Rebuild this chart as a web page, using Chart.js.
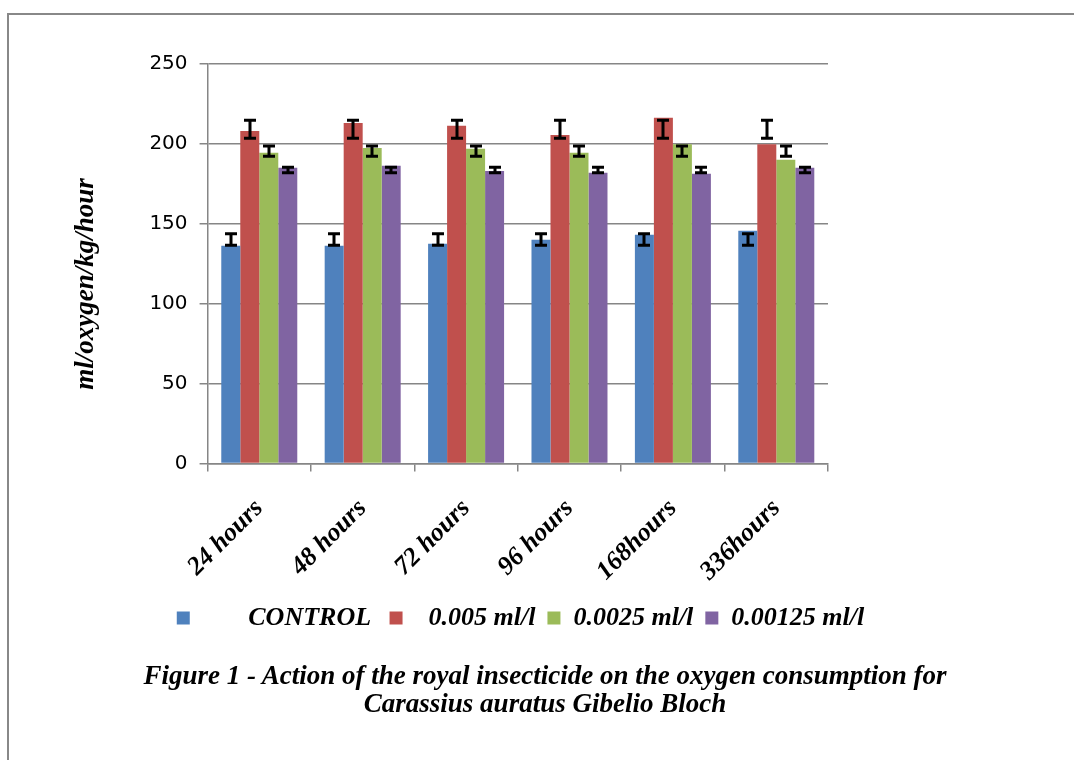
<!DOCTYPE html>
<html lang="en">
<head>
  <meta charset="UTF-8" />
  <title>Oxygen consumption - Carassius auratus</title>
  <script src="https://cdn.jsdelivr.net/npm/chart.js@4.4.1/dist/chart.umd.min.js"></script>
  <style>
    html, body {
      margin: 0;
      padding: 0;
      background: #fff;
      overflow: hidden;
    }

    .page {
      position: relative;
      width: 1074px;
      height: 760px;
    }

    /* grey frame, left and top only */
    .frame {
      position: absolute;
      left: 7px;
      top: 13px;
      right: 0;
      bottom: 0;
      border-left: 2px solid #888;
      border-top: 2px solid #888;
    }

    #oxyChart {
      position: absolute;
      left: 0;
      top: 0;
    }

    .caption {
      position: absolute;
      left: 95px;
      width: 900px;
      top: 661px;
      text-align: center;
      font-family: 'Liberation Serif', 'Times New Roman', serif;
      font-style: italic;
      font-weight: bold;
      font-size: 27px;
      line-height: 28px;
      color: #000;
    }
  </style>
</head>
<body>
  <div class="page">
    <div class="frame"></div>
    <canvas id="oxyChart" width="986" height="760"></canvas>
    <div class="caption">
      Figure 1 - Action of the royal insecticide on the oxygen consumption for<br>
      Carassius auratus Gibelio Bloch
    </div>
  </div>

  <script>
    // data
    const categories = ['24 hours', '48 hours', '72 hours', '96 hours', '168hours', '336hours'];
    const seriesNames = ['       CONTROL ', '  0.005 ml/l', '0.0025 ml/l', '0.00125 ml/l'];
    const seriesColors = ['#4F81BD', '#C0504D', '#9BBB59', '#8064A2'];

    const control  = [136.3, 136.3, 137.5, 140.0, 143.1, 145.6];
    const dose005  = [208.1, 213.1, 211.3, 205.6, 216.3, 199.8];
    const dose0025 = [194.4, 197.5, 196.9, 194.4, 199.8, 190.0];
    const dose00125 = [185.0, 186.3, 183.1, 181.9, 181.3, 185.0];

    // error bars (same limits in every group in the original)
    const controlErrLow  = [136.5, 136.5, 136.5, 136.5, 136.5, 136.5];
    const controlErrHigh = [143.8, 143.8, 143.8, 143.8, 143.8, 143.8];
    const dose005ErrLow  = [203.6, 203.6, 203.6, 203.6, 203.6, 203.6];
    const dose005ErrHigh = [214.8, 214.8, 214.8, 214.8, 214.8, 214.8];
    const dose0025ErrLow  = [192.3, 192.3, 192.3, 192.3, 192.3, 192.3];
    const dose0025ErrHigh = [198.6, 198.6, 198.6, 198.6, 198.6, 198.6];
    const dose00125ErrLow  = [181.9, 181.9, 181.9, 181.9, 181.9, 181.9];
    const dose00125ErrHigh = [185.3, 185.3, 185.3, 185.3, 185.3, 185.3];

    const yTicks = [0, 50, 100, 150, 200, 250];

    const seriesValues = [control, dose005, dose0025, dose00125];
    const seriesErrLow = [controlErrLow, dose005ErrLow, dose0025ErrLow, dose00125ErrLow];
    const seriesErrHigh = [controlErrHigh, dose005ErrHigh, dose0025ErrHigh, dose00125ErrHigh];

    const serifBold = { family: "'Liberation Serif', 'Times New Roman', serif", style: 'italic', weight: 'bold' };
    const gridGrey = '#868686';

    // draws the black I-shaped error bars on top of the bars
    const errorBars = {
      id: 'errorBars',
      afterDatasetsDraw(chart) {
        const ctx = chart.ctx;
        const y = chart.scales.y;
        ctx.save();
        ctx.strokeStyle = '#000';
        ctx.lineWidth = 3;
        chart.data.datasets.forEach((ds, i) => {
          const meta = chart.getDatasetMeta(i);
          meta.data.forEach((bar, j) => {
            const top = y.getPixelForValue(ds.errHigh[j]);
            const bot = y.getPixelForValue(ds.errLow[j]);
            const x = Math.round(bar.x);
            ctx.beginPath();
            ctx.moveTo(x, top);
            ctx.lineTo(x, bot);
            ctx.moveTo(x - 6, top);
            ctx.lineTo(x + 6, top);
            ctx.moveTo(x - 6, bot);
            ctx.lineTo(x + 6, bot);
            ctx.stroke();
          });
        });
        ctx.restore();
      }
    };

    const datasets = seriesNames.map((name, i) => ({
      label: name,
      data: seriesValues[i],
      errLow: seriesErrLow[i],
      errHigh: seriesErrHigh[i],
      backgroundColor: seriesColors[i],
      borderWidth: 0,
      categoryPercentage: 0.735,
      barPercentage: 1.0
    }));

    new Chart(document.getElementById('oxyChart'), {
      type: 'bar',
      data: { labels: categories, datasets: datasets },
      plugins: [errorBars],
      options: {
        responsive: false,
        animation: false,
        devicePixelRatio: 1,
        layout: {
          padding: { left: 55, top: 64, right: 0, bottom: 119 }
        },
        plugins: {
          tooltip: { enabled: false },
          title: { display: false },
          legend: {
            position: 'bottom',
            labels: {
              boxWidth: 13,
              boxHeight: 13,
              padding: 12,
              color: '#000',
              font: Object.assign({ size: 26 }, serifBold)
            }
          }
        },
        scales: {
          x: {
            grid: {
              drawOnChartArea: false,
              drawTicks: true,
              tickLength: 8,
              color: gridGrey,
              lineWidth: 1.5
            },
            border: { display: true, color: gridGrey, width: 1.5 },
            ticks: {
              autoSkip: false,
              minRotation: 45,
              maxRotation: 45,
              padding: 22,
              color: '#000',
              font: Object.assign({ size: 26 }, serifBold)
            },
            afterFit: (scale) => { scale.height -= 16; }
          },
          y: {
            min: 0,
            max: 250,
            afterBuildTicks: (scale) => {
              scale.ticks = yTicks.map(v => ({ value: v }));
            },
            grid: {
              color: gridGrey,
              lineWidth: 1.5,
              tickLength: 8
            },
            border: { display: true, color: gridGrey, width: 1.5 },
            ticks: {
              padding: 12,
              color: '#000',
              font: { family: "'DejaVu Sans', Verdana, sans-serif", size: 20 }
            },
            title: {
              display: true,
              text: 'ml/oxygen/kg/hour      ',
              color: '#000',
              padding: { top: 15, bottom: 35 },
              font: Object.assign({ size: 27 }, serifBold)
            }
          },
          yr: {
            position: 'right',
            display: true,
            grid: { display: false },
            border: { display: false },
            ticks: { display: false },
            afterFit: (scale) => { scale.width = 158; }
          }
        }
      }
    });
  </script>
</body>
</html>
